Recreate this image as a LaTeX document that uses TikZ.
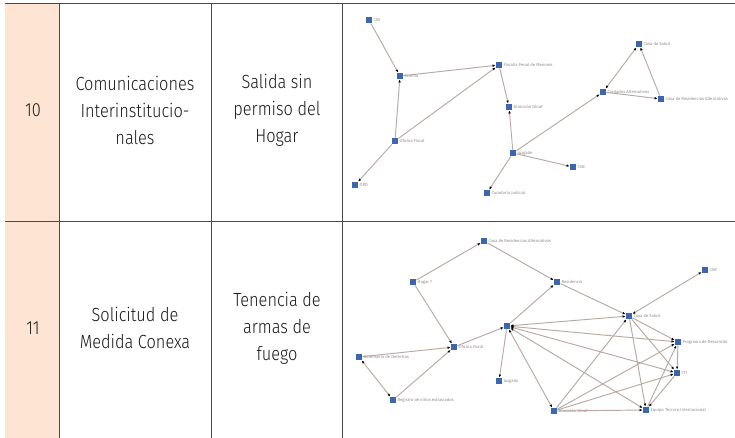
\documentclass[tikz,border=0pt]{standalone}
\usepackage{xcolor}
\usepackage{fontspec}
\usetikzlibrary{arrows.meta}
\setmainfont{Fira Sans}
\newfontfamily\cellfont[FakeStretch=0.86]{Fira Sans Light}

\definecolor{peach}{HTML}{FDE4D3}
\definecolor{nodeblue}{HTML}{3C66B1}
\definecolor{edgegrey}{HTML}{B8AAA3}
\definecolor{lblgrey}{HTML}{8A8A8A}
\definecolor{rulegrey}{HTML}{4A4A4A}

\tikzset{
  celltext/.style={align=center, font=\cellfont\fontsize{19}{27}\selectfont, text=black!90},
  lbl/.style={font=\fontsize{4.2}{5}\selectfont, text=lblgrey, inner sep=1pt},
  vertex/.style={rectangle, fill=nodeblue, minimum size=6.5pt, inner sep=0pt, label={[lbl]right:#1}},
  link/.style={draw=edgegrey, line width=0.95pt, -{Latex[length=3pt,width=2.6pt,color=black]}},
  linkboth/.style={draw=edgegrey, line width=0.95pt, {Latex[length=3pt,width=2.6pt,color=black]}-{Latex[length=3pt,width=2.6pt,color=black]}}
}

\begin{document}
\begin{tikzpicture}[x=1pt, y=-1pt]
\useasboundingbox (0,0) rectangle (735,438);

% table
\fill[peach] (5,3) rectangle (59,438);
\draw[rulegrey, line width=0.8pt] (5,3) -- (735,3);
\draw[rulegrey, line width=0.8pt] (5,221) -- (735,221);
\foreach \xc in {59,211,342}
  \draw[rulegrey, line width=0.8pt] (\xc,3) -- (\xc,438);

\node[celltext] (num10) at (33,110) {10};
\node[celltext] (tipo10) at (135,110) {Comunicaciones\\Interinstitucio-\\nales};
\node[celltext] (caso10) at (277,110) {Salida sin\\permiso del\\Hogar};

\node[celltext] (num11) at (33,328) {11};
\node[celltext] (tipo11) at (135,328) {Solicitud de\\Medida Conexa};
\node[celltext] (caso11) at (277,328) {Tenencia de\\armas de\\fuego};

% red 10
\node[vertex={CIN}] (cin) at (369,20) {};
\node[vertex={Familia}] (familia) at (400,76) {};
\node[vertex={Fiscal\'ia Penal de Menores}] (fiscalia) at (499,65) {};
\node[vertex={Direcci\'on Dinaf}] (dinaf) at (509,107) {};
\node[vertex={Oficina Fiscal}] (oficina) at (395,141) {};
\node[vertex={OPD}] (opd) at (355,185) {};
\node[vertex={Juzgado}] (juzgado) at (513,153) {};
\node[vertex={Curadur\'ia Judicial}] (curaduria) at (487,193) {};
\node[vertex={Cuidados Alternativos}] (cuidados) at (603,92) {};
\node[vertex={Casa de Salud}] (salud) at (639,44) {};
\node[vertex={Casa de Residencias Alternativas}] (residencias) at (661,99) {};
\node[vertex={CNC}] (cnc) at (573,167) {};

\draw[link] (cin) -- (familia);
\draw[link] (familia) -- (fiscalia);
\draw[link] (oficina) -- (familia);
\draw[link] (oficina) -- (fiscalia);
\draw[link] (oficina) -- (opd);
\draw[link] (fiscalia) -- (dinaf);
\draw[link] (juzgado) -- (dinaf);
\draw[link] (juzgado) -- (curaduria);
\draw[link] (juzgado) -- (cuidados);
\draw[link] (juzgado) -- (cnc);
\draw[linkboth] (cuidados) -- (salud);
\draw[link] (residencias) -- (salud);
\draw[link] (cuidados) -- (residencias);

% red 11
\node[vertex={Casa de Residencias Alternativas}] (casares) at (484,241) {};
\node[vertex={Hogar 7}] (hogar) at (413,282) {};
\node[vertex={Residencia}] (residencia) at (557,282) {};
\node[vertex={CNC}] (cncb) at (705,270) {};
\node[vertex={Casa de Salud}] (saludb) at (629,316) {};
\node[vertex={}] (centro) at (507,326) {};
\node[vertex={Oficina Fiscal}] (oficinab) at (454,347) {};
\node[vertex={Defensor\'ia de Derechos}] (defensoria) at (359,357) {};
\node[vertex={Registro de ni\~nos extraviados}] (registro) at (393,400) {};
\node[vertex={Juzgado}] (juzgadob) at (499,381) {};
\node[vertex={Programa de Desarrollo}] (programa) at (678,342) {};
\node[vertex={CTI}] (cti) at (677,373) {};
\node[vertex={Direcci\'on Dinaf}] (dinafb) at (554,411) {};
\node[vertex={Equipo T\'ecnico Internacional}] (equipo) at (646,410) {};

\draw[link] (hogar) -- (casares);
\draw[link] (casares) -- (residencia);
\draw[link] (hogar) -- (oficinab);
\draw[link] (centro) -- (residencia);
\draw[link] (residencia) -- (saludb);
\draw[linkboth] (saludb) -- (cncb);
\draw[link] (oficinab) -- (centro);
\draw[link] (defensoria) -- (oficinab);
\draw[link] (registro) -- (oficinab);
\draw[linkboth] (registro) -- (defensoria);
\draw[link] (centro) -- (juzgadob);
\foreach \dest in {saludb,programa,cti,equipo,dinafb}
  \draw[linkboth] (centro) -- (\dest);
\foreach \dest in {programa,cti,equipo}
  \draw[link] (saludb) -- (\dest);
\draw[link] (dinafb) -- (saludb);
\draw[link] (programa) -- (cti);
\draw[link] (equipo) -- (programa);
\draw[link] (cti) -- (equipo);
\draw[link] (dinafb) -- (programa);
\draw[link] (dinafb) -- (cti);
\draw[link] (dinafb) -- (equipo);

\end{tikzpicture}
\end{document}
